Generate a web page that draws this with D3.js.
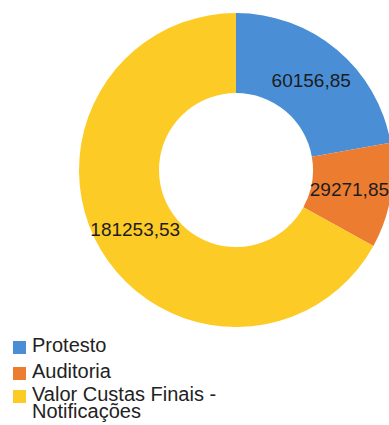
<!DOCTYPE html>
<html>
<head>
<meta charset="utf-8">
<script src="https://cdn.jsdelivr.net/npm/d3@7/dist/d3.min.js"></script>
<style>
  html, body { margin: 0; padding: 0; background: #fff; }
  svg { display: block; }
</style>
</head>
<body>
<svg id="chart" width="389" height="425"></svg>
<script>
const categories = ["Protesto", "Auditoria", "Valor Custas Finais - Notificações"];
const legendLines = [["Protesto"], ["Auditoria"], ["Valor Custas Finais -", "Notificações"]];
const values = [60156.85, 29271.85, 181253.53];
const valueLabels = ["60156,85", "29271,85", "181253,53"];
const colors = ["#4a8fd6", "#ec7c30", "#fdcb25"];

const svg = d3.select("#chart");
const cx = 236, cy = 170, outerR = 157, innerR = 77;

const pie = d3.pie().sort(null).value(d => d)(values);
const arc = d3.arc().innerRadius(innerR).outerRadius(outerR);
const labelArc = d3.arc().innerRadius((innerR + outerR) / 2).outerRadius((innerR + outerR) / 2);

const g = svg.append("g").attr("transform", `translate(${cx},${cy})`);
g.selectAll("path").data(pie).join("path")
  .attr("d", arc)
  .attr("fill", (d, i) => colors[i]);

g.selectAll("text").data(pie).join("text")
  .attr("transform", (d, i) => {
    const c = labelArc.centroid(d);
    return `translate(${i === 1 ? c[0] - 2 : c[0]},${c[1]})`;
  })
  .attr("text-anchor", "middle")
  .attr("dy", "0.36em")
  .attr("font-family", "Liberation Sans, Arial, sans-serif")
  .attr("font-size", 19)
  .attr("fill", "#1c1c22")
  .text((d, i) => valueLabels[i]);

// legend
const legendY = [352, 378, 401];
const leg = svg.append("g");
categories.forEach((c, i) => {
  leg.append("rect")
    .attr("x", 13).attr("y", legendY[i] - 11)
    .attr("width", 13).attr("height", 13)
    .attr("fill", colors[i]);
  const t = leg.append("text")
    .attr("x", 32).attr("y", legendY[i])
    .attr("font-family", "Liberation Sans, Arial, sans-serif")
    .attr("font-size", 20)
    .attr("fill", "#222");
  legendLines[i].forEach((line, j) => {
    t.append("tspan").attr("x", 32).attr("dy", j === 0 ? 0 : 17).text(line);
  });
});
</script>
</body>
</html>
